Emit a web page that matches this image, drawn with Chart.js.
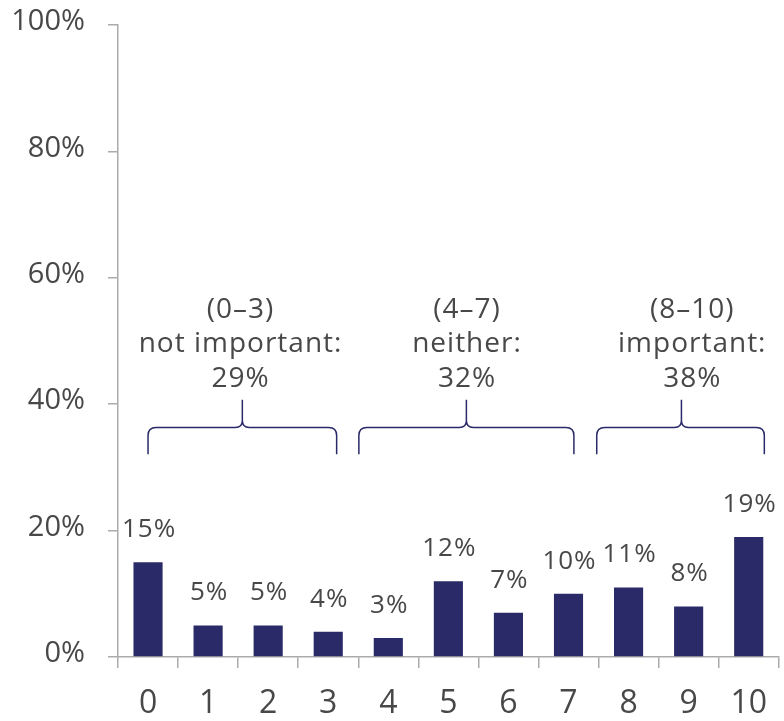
<!DOCTYPE html>
<html>
<head>
<meta charset="utf-8">
<script src="https://cdn.jsdelivr.net/npm/chart.js@4"></script>
<style>
  html, body { margin: 0; padding: 0; background: #fff; }
  #wrap { width: 784px; height: 721px; position: relative; }
</style>
</head>
<body>
<div id="wrap"><canvas id="chart"></canvas></div>
<script>
// Importance rating 0–10: share of respondents per score
const categories = ['0', '1', '2', '3', '4', '5', '6', '7', '8', '9', '10'];
const shares = [15, 5, 5, 4, 3, 12, 7, 10, 11, 8, 19];
const yTickValues = [0, 20, 40, 60, 80, 100];

// Score groups summarised above the bars
const groupRanges = ['(0–3)', '(4–7)', '(8–10)'];
const groupNames = ['not important:', 'neither:', 'important:'];
const groupShares = [29, 32, 38];

const NAVY = '#2a2a68';
const TEXT = '#484848';
const AXIS = '#ababab';
const FONT = "'Open Sans', 'DejaVu Sans', sans-serif";

Chart.defaults.font.family = FONT;
Chart.defaults.color = TEXT;

// Brace geometry in axis units (category index along x, percent along y)
const braceLayout = {
  from:  [0.00, 3.51, 7.47],
  to:    [3.14, 7.09, 10.26],
  tip:   [1.57, 5.30, 8.88],
  textX: [1.54, 5.31, 9.06],
  bar: 36.3,      // horizontal stroke
  ends: 32.1,     // lower ends of the brace arms
  top: 40.7       // upper end of the centre point
};

const valueLabels = {
  id: 'valueLabels',
  afterDatasetsDraw(chart) {
    const { ctx } = chart;
    const meta = chart.getDatasetMeta(0);
    ctx.save();
    ctx.font = '26px ' + FONT;
    ctx.fillStyle = TEXT;
    ctx.textAlign = 'center';
    ctx.textBaseline = 'alphabetic';
    if ('letterSpacing' in ctx) ctx.letterSpacing = '1px';
    meta.data.forEach((bar, i) => {
      ctx.fillText(shares[i] + '%', bar.x + 1, bar.y - 25);
    });
    ctx.restore();
  }
};

const groupBraces = {
  id: 'groupBraces',
  afterDatasetsDraw(chart) {
    const { ctx, scales: { x, y } } = chart;
    const yH = y.getPixelForValue(braceLayout.bar);
    const yE = y.getPixelForValue(braceLayout.ends);
    const yT = y.getPixelForValue(braceLayout.top);
    const r = 8, rt = 7;
    ctx.save();
    ctx.strokeStyle = NAVY;
    ctx.lineWidth = 1.5;
    groupRanges.forEach((_, g) => {
      const L = x.getPixelForValue(braceLayout.from[g]);
      const R = x.getPixelForValue(braceLayout.to[g]);
      const T = x.getPixelForValue(braceLayout.tip[g]);
      ctx.beginPath();
      ctx.moveTo(L, yE);
      ctx.lineTo(L, yH + r);
      ctx.quadraticCurveTo(L, yH, L + r, yH);
      ctx.lineTo(T - rt, yH);
      ctx.quadraticCurveTo(T, yH, T, yH - rt);
      ctx.lineTo(T, yT);
      ctx.moveTo(T, yH - rt);
      ctx.quadraticCurveTo(T, yH, T + rt, yH);
      ctx.lineTo(R - r, yH);
      ctx.quadraticCurveTo(R, yH, R, yH + r);
      ctx.lineTo(R, yE);
      ctx.stroke();
    });

    ctx.font = '28px ' + FONT;
    ctx.fillStyle = TEXT;
    ctx.textAlign = 'center';
    ctx.textBaseline = 'alphabetic';
    if ('letterSpacing' in ctx) ctx.letterSpacing = '1px';
    const lineGap = 34.5;
    groupRanges.forEach((range, g) => {
      const cx = x.getPixelForValue(braceLayout.textX[g]);
      const base = yT - 13;
      ctx.fillText(range, cx, base - 2 * lineGap);
      ctx.fillText(groupNames[g], cx, base - lineGap);
      ctx.fillText(groupShares[g] + '%', cx, base);
    });
    ctx.restore();
  }
};

new Chart(document.getElementById('chart'), {
  type: 'bar',
  data: {
    labels: categories,
    datasets: [{
      data: shares,
      backgroundColor: NAVY,
      borderWidth: 0,
      barPercentage: 0.485,
      categoryPercentage: 1
    }]
  },
  options: {
    responsive: true,
    maintainAspectRatio: false,
    animation: false,
    layout: { padding: { top: 25, right: 0, bottom: 0, left: 0 } },
    plugins: {
      legend: { display: false },
      tooltip: { enabled: false }
    },
    scales: {
      x: {
        offset: true,
        grid: {
          offset: true,
          drawOnChartArea: false,
          drawTicks: true,
          tickLength: 11,
          color: AXIS,
          lineWidth: 1.5
        },
        border: { color: AXIS, width: 1.5 },
        ticks: {
          font: { size: 32 },
          color: TEXT,
          padding: 17,
          maxRotation: 0,
          autoSkip: false
        },
        afterFit(scale) { scale.height = 64; }
      },
      y: {
        min: 0,
        max: 100,
        afterBuildTicks(scale) {
          scale.ticks = yTickValues.map(v => ({ value: v }));
        },
        grid: {
          drawOnChartArea: false,
          drawTicks: true,
          tickLength: 10,
          color: AXIS,
          lineWidth: 1.5
        },
        border: { color: AXIS, width: 1.5 },
        ticks: {
          font: { size: 29 },
          color: TEXT,
          padding: 23,
          labelOffset: -3,
          callback: v => v + '%'
        },
        afterFit(scale) {
          scale.width = 118;
          scale.paddingTop = 0;
          scale.paddingBottom = 0;
        }
      }
    }
  },
  plugins: [valueLabels, groupBraces]
});
</script>
</body>
</html>
